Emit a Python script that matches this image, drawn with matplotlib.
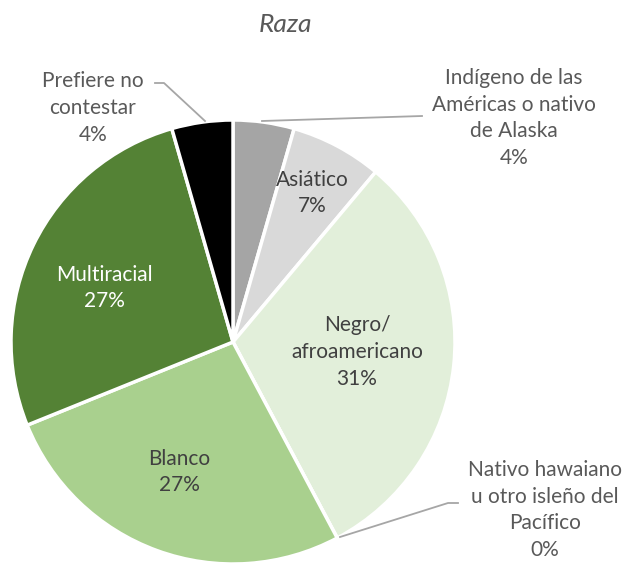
import matplotlib.pyplot as plt

# data (counts, n=45)
labels = ['Indígeno de las\nAméricas o nativo\nde Alaska', 'Asiático', 'Negro/\nafroamericano',
          'Nativo hawaiano\nu otro isleño del\nPacífico', 'Blanco', 'Multiracial',
          'Prefiere no\ncontestar']
counts = [2, 3, 14, 0, 12, 12, 2]
colors = ['#a5a5a5', '#d9d9d9', '#e2efda', '#c6e0b4', '#a9d08e', '#548235', '#000000']

W, H = 629, 565
cx, cy, R = 233, 342, 222

fig = plt.figure(figsize=(W / 100, H / 100), dpi=100)
ax = fig.add_axes([(cx - R) / W, (H - cy - R) / H, 2 * R / W, 2 * R / H])
ax.pie(counts, colors=colors, startangle=90, counterclock=False, radius=1,
       wedgeprops=dict(edgecolor='white', linewidth=2.5))
ax.set_xlim(-1, 1)
ax.set_ylim(-1, 1)
ax.set_aspect('equal')
ax.axis('off')

def d(px, py):
    return ((px - cx) / R, (cy - py) / R)

total = sum(counts)
pcts = ['%d%%' % round(100 * c / total) for c in counts]

fnt = dict(family=['Lato', 'DejaVu Sans'], fontsize=15, ha='center', va='center', linespacing=1.42)
# label positions (pixels)
pos = [(514, 118), (312, 193), (357, 352), (545, 510), (179, 472), (104, 288), (93, 108)]
tcol = ['#595959', '#404040', '#404040', '#595959', '#404040', 'white', '#595959']
for lab, p, (px, py), c in zip(labels, pcts, pos, tcol):
    x, y = d(px, py)
    ax.text(x, y, lab + '\n' + p, color=c, clip_on=False, **fnt)

# leader lines
lc = '#a6a6a6'
for pts in [[(155, 83), (164, 83), (205, 121)],
            [(262, 121), (422, 116)],
            [(340, 537), (448, 503), (458, 503)]]:
    xs, ys = zip(*[d(*q) for q in pts])
    ax.plot(xs, ys, color=lc, lw=1.3, clip_on=False)

fig.text(285 / W, 1 - 25 / H, 'Raza', family=['Lato', 'DejaVu Sans'], fontsize=19,
         style='italic', color='#595959', ha='center', va='center')

fig.savefig('out.png', dpi=100)
